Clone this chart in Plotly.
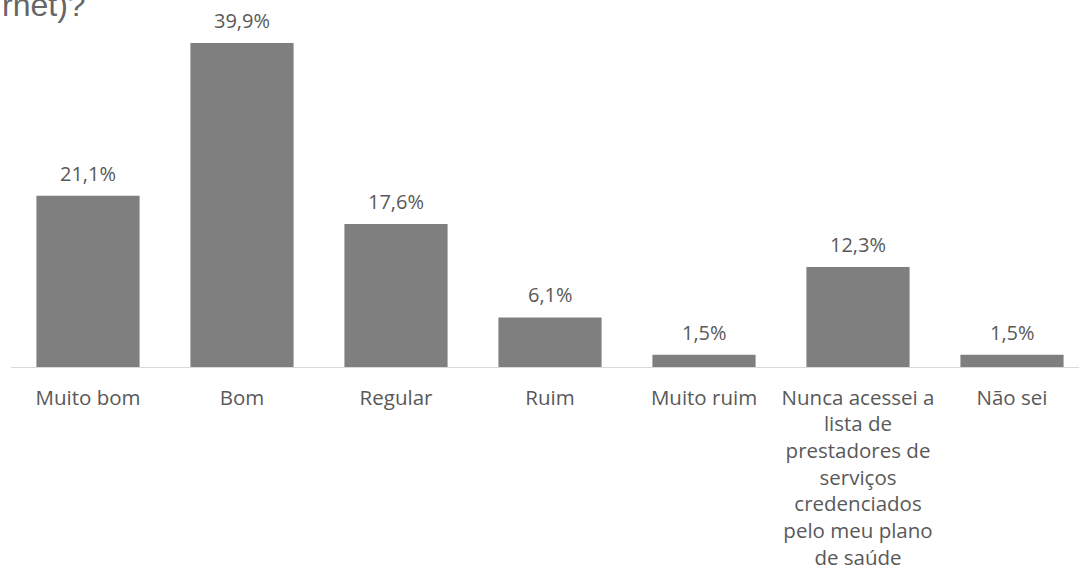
import plotly.graph_objects as go

categories = ["Muito bom", "Bom", "Regular", "Ruim", "Muito ruim",
              "Nunca acessei a<br>lista de<br>prestadores de<br>serviços<br>credenciados<br>pelo meu plano<br>de saúde",
              "Não sei"]
values = [21.1, 39.9, 17.6, 6.1, 1.5, 12.3, 1.5]
labels = ["21,1%", "39,9%", "17,6%", "6,1%", "1,5%", "12,3%", "1,5%"]
title_fragment = "rnet)?"

W, H = 1079, 571
ml, mr, mt, mb = 11, 0, 0, 204
plot_w = W - ml - mr
plot_h = H - mt - mb
step = 154.0
px_per_pct = 8.12
FONT = "Open Sans"
TXT = "#595959"

fig = go.Figure(go.Bar(
    x=list(range(len(categories))), y=values,
    marker=dict(color="#7f7f7f", line=dict(width=0)),
    cliponaxis=False, hoverinfo="skip",
))

annotations = [dict(
    x=i, y=v, xref="x", yref="y", text=t, showarrow=False,
    xanchor="center", yanchor="bottom", yshift=7,
    font=dict(family=FONT, size=20, color=TXT),
) for i, (v, t) in enumerate(zip(values, labels))]

annotations.append(dict(
    text=title_fragment, xref="paper", yref="paper",
    x=-ml / plot_w, y=1 - 5.5 / plot_h, xanchor="left", yanchor="middle",
    showarrow=False,
    font=dict(family="Liberation Sans", size=32, color="#666666"),
))

fig.update_layout(
    width=W, height=H,
    margin=dict(l=ml, r=mr, t=mt, b=mb, autoexpand=False),
    paper_bgcolor="white", plot_bgcolor="white",
    bargap=0.33,
    showlegend=False,
    font=dict(family=FONT, size=20.5, color=TXT),
    xaxis=dict(
        tickmode="array", tickvals=list(range(len(categories))), ticktext=categories,
        range=[-0.5, -0.5 + plot_w / step],
        showgrid=False, zeroline=False,
        showline=True, linecolor="#d9d9d9", linewidth=1,
        ticks="", ticklabelstandoff=12, automargin=False,
        tickfont=dict(family=FONT, size=20.5, color=TXT),
    ),
    yaxis=dict(
        range=[0, plot_h / px_per_pct], automargin=False,
        showgrid=False, zeroline=False, showticklabels=False, showline=False,
    ),
    annotations=annotations,
)

fig.write_html("out.html", config={"displayModeBar": False},
               post_script="document.body.style.margin='0';")
